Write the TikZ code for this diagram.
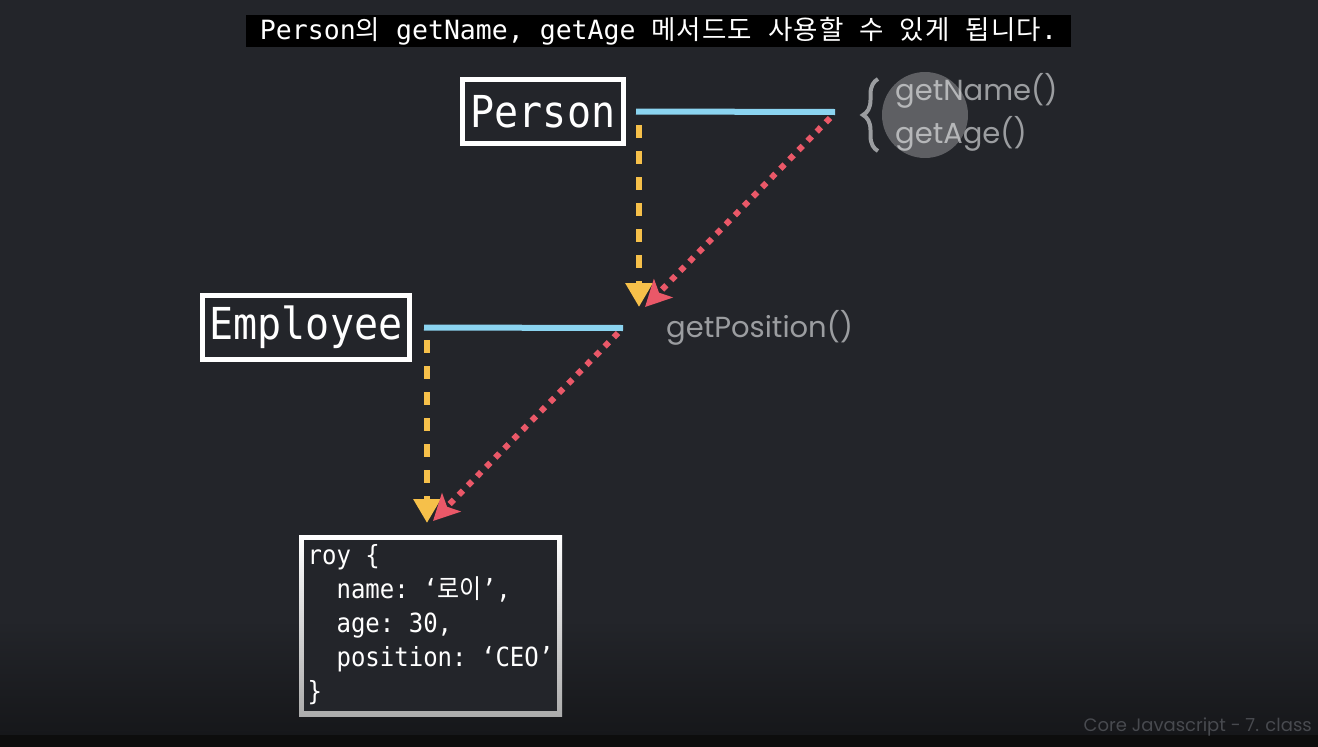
\documentclass[tikz,border=0pt]{standalone}
\usepackage{fontspec}
\setmonofont{DejaVu Sans Mono}
\newfontfamily\krfont{Noto Sans CJK KR}
\newfontfamily\krtitle{Noto Sans CJK KR}[LetterSpace=4]
\newfontfamily\labelfont{Poppins}
\usetikzlibrary{positioning}
\usetikzlibrary{arrows.meta}
\usetikzlibrary{decorations.pathreplacing}

\definecolor{bgtop}{RGB}{35,37,42}
\definecolor{bgbot}{RGB}{22,23,26}
\definecolor{lineblue}{RGB}{139,212,240}
\definecolor{dashyellow}{RGB}{246,192,74}
\definecolor{dotred}{RGB}{234,88,104}
\definecolor{methodgray}{RGB}{155,157,160}
\definecolor{footgray}{RGB}{72,74,79}

\newcommand{\tall}[1]{\scalebox{1}[1.1]{#1}}
\newcommand{\kt}[1]{{\krtitle #1}}

\begin{document}
\begin{tikzpicture}[
    x=1pt, y=-1pt,
    classbox/.style={draw=white,line width=5pt,fill=bgtop,text=white,inner sep=0pt,minimum height=64pt,
      font=\ttfamily\fontsize{40}{44}\selectfont},
    blueline/.style={draw=lineblue,line width=6pt},
    inherit/.style={draw=dashyellow,line width=6pt,dash pattern=on 13pt off 13pt,
      -{Triangle[length=24pt,width=26pt]}},
    lookup/.style={draw=dotred,line width=6pt,dash pattern=on 6pt off 7pt,
      -{Stealth[length=26pt,width=26pt,inset=6pt]}},
    method/.style={text=methodgray,inner sep=0pt,anchor=west,font=\labelfont\fontsize{29}{34}\selectfont}
    ]

    % background
    \fill[bgtop] (0,0) rectangle (1318,620);
    \shade[top color=bgtop,bottom color=bgbot] (0,619.5) rectangle (1318,735);
    \fill[black!95] (0,735) rectangle (1318,747);
    \useasboundingbox (0,0) rectangle (1318,747);

    \node[fill=black,text=white,inner sep=0pt,minimum width=825pt,minimum height=32pt,
      font=\ttfamily\fontsize{22.5}{26}\selectfont] (title) at (658.5,31)
      {\resizebox{797pt}{!}{Person\kt{의}\ getName,\ getAge\ \kt{메서드도}\ \kt{사용할}\ \kt{수}\ \kt{있게}\ \kt{됩니다}.}};

    \node[classbox, minimum width=161pt] (person) at (543,111.5) {\tall{Person}};
    \node[classbox, minimum width=207pt] (employee) at (306,327.5) {\tall{Employee}};
    \node[inner sep=0pt, minimum width=263pt, minimum height=181pt,
      top color=white, bottom color=gray!65, text=white,
      font=\ttfamily\fontsize{24}{31}\selectfont,
      path picture={\fill[bgtop] ([shift={(5pt,-5pt)}]path picture bounding box.north west)
        rectangle ([shift={(-5pt,5pt)}]path picture bounding box.south east);}] (roy) at (430.5,625.5)
      {\tall{\begin{tabular}{@{}l@{}}
       roy\ \{\\
       \phantom{xx}name: ‘{\krfont 로이}’,\\
       \phantom{xx}age: 30,\\
       \phantom{xx}position: ‘CEO’\\
       \}
       \end{tabular}}};

    \coordinate (pend) at (835,112);
    \coordinate (eend) at (623,328);
    \coordinate (ptip) at (639,307);
    \coordinate (etip) at (427,523);

    \node[method] (getname) at (895,91) {getName()};
    \node[method] (getage) at (895,134) {getAge()};
    \node[method] (getposition) at (666,328) {getPosition()};
    \draw[methodgray, line width=4pt, decorate, decoration={brace,amplitude=15pt,aspect=0.5}] (878,151) -- (878,79);
    \fill[white, opacity=0.27] (925,115) circle (43pt);

    \draw[blueline] ([xshift=10pt]person.east) -- (pend);
    \draw[blueline] ([xshift=12pt]employee.east) -- (eend);
    \draw[inherit] ([yshift=-13.5pt]ptip |- person.east) -- (ptip);
    \draw[inherit] ([yshift=-12.5pt]etip |- employee.east) -- (etip);
    \draw[lookup] ([shift={(-5pt,-6pt)}]pend) -- ([xshift=6pt]ptip);
    \draw[lookup] ([shift={(-5pt,-5pt)}]eend) -- ([shift={(6pt,2pt)}]etip);

    \node[text=footgray, anchor=east, inner sep=0pt, font=\labelfont\fontsize{18}{22}\selectfont] (footer) at (1312,727)
      {Core Javascript - 7. class};

  \end{tikzpicture}
\end{document}
